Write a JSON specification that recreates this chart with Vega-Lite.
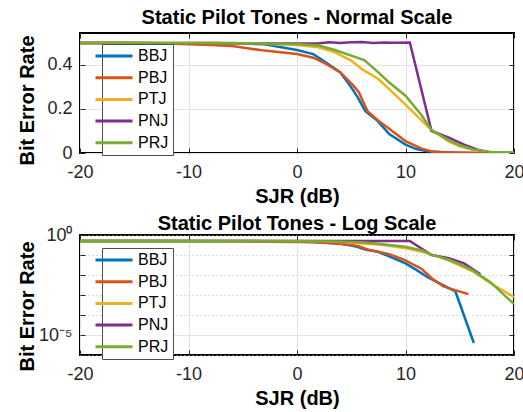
{
  "$schema": "https://vega.github.io/schema/vega-lite/v6.json",
  "padding": {"left": 16, "top": 6, "right": 0, "bottom": 0},
  "spacing": 6,
  "config": {
    "font": "Liberation Sans",
    "view": {"stroke": "black", "strokeWidth": 2},
    "axis": {
      "labelFont": "Liberation Sans", "labelFontSize": 18, "labelColor": "#262626",
      "titleFont": "Liberation Sans", "titleFontSize": 20, "titleFontWeight": "bold", "titleColor": "#000000",
      "gridColor": "#e3e3e3", "gridOpacity": 1, "gridWidth": 1,
      "domain": false, "tickColor": "#262626", "tickSize": -5, "tickWidth": 1,
      "labelFlush": false, "labelOverlap": false
    },
    "title": {"font": "Liberation Sans", "fontSize": 20, "fontWeight": "bold", "color": "#000000", "baseline": "alphabetic", "offset": 8, "frame": "group"},
    "legend": {
      "title": null, "symbolType": "M-4,0H4", "symbolSize": 85.6, "symbolStrokeWidth": 3,
      "labelFont": "Liberation Sans", "labelFontSize": 16, "labelColor": "#000000",
      "labelOffset": 16, "rowPadding": 5.7, "padding": 4,
      "strokeColor": "#4d4d4d", "fillColor": "white", "cornerRadius": 0
    }
  },
  "datasets": {
    "ber": [
      {"series": "BBJ", "sjr": -20, "ber": 0.5},
      {"series": "BBJ", "sjr": -15, "ber": 0.5},
      {"series": "BBJ", "sjr": -10, "ber": 0.499},
      {"series": "BBJ", "sjr": -5, "ber": 0.497},
      {"series": "BBJ", "sjr": -3, "ber": 0.494},
      {"series": "BBJ", "sjr": 0, "ber": 0.468},
      {"series": "BBJ", "sjr": 1.5, "ber": 0.449},
      {"series": "BBJ", "sjr": 2.4, "ber": 0.42},
      {"series": "BBJ", "sjr": 4, "ber": 0.366},
      {"series": "BBJ", "sjr": 5, "ber": 0.298},
      {"series": "BBJ", "sjr": 5.6, "ber": 0.253},
      {"series": "BBJ", "sjr": 6.3, "ber": 0.19},
      {"series": "BBJ", "sjr": 7.4, "ber": 0.147},
      {"series": "BBJ", "sjr": 8.5, "ber": 0.086},
      {"series": "BBJ", "sjr": 10, "ber": 0.038},
      {"series": "BBJ", "sjr": 11, "ber": 0.018},
      {"series": "BBJ", "sjr": 12, "ber": 0.008},
      {"series": "BBJ", "sjr": 13.5, "ber": 0.003},
      {"series": "BBJ", "sjr": 14.6, "ber": 0.0015},
      {"series": "BBJ", "sjr": 16.3, "ber": 0.000004},
      {"series": "BBJ", "sjr": 18.1, "ber": 0},
      {"series": "BBJ", "sjr": 20, "ber": 0},
      {"series": "PBJ", "sjr": -20, "ber": 0.5},
      {"series": "PBJ", "sjr": -14, "ber": 0.5},
      {"series": "PBJ", "sjr": -12, "ber": 0.497},
      {"series": "PBJ", "sjr": -8, "ber": 0.49},
      {"series": "PBJ", "sjr": -6, "ber": 0.486},
      {"series": "PBJ", "sjr": -3, "ber": 0.465},
      {"series": "PBJ", "sjr": 0, "ber": 0.45},
      {"series": "PBJ", "sjr": 1.5, "ber": 0.433},
      {"series": "PBJ", "sjr": 2.4, "ber": 0.412},
      {"series": "PBJ", "sjr": 4, "ber": 0.366},
      {"series": "PBJ", "sjr": 5.2, "ber": 0.306},
      {"series": "PBJ", "sjr": 5.7, "ber": 0.276},
      {"series": "PBJ", "sjr": 6.5, "ber": 0.19},
      {"series": "PBJ", "sjr": 7.5, "ber": 0.147},
      {"series": "PBJ", "sjr": 8.5, "ber": 0.11},
      {"series": "PBJ", "sjr": 10, "ber": 0.054},
      {"series": "PBJ", "sjr": 11.5, "ber": 0.02},
      {"series": "PBJ", "sjr": 12.5, "ber": 0.0063},
      {"series": "PBJ", "sjr": 13.5, "ber": 0.0027},
      {"series": "PBJ", "sjr": 14.5, "ber": 0.0018},
      {"series": "PBJ", "sjr": 15.8, "ber": 0.0011},
      {"series": "PBJ", "sjr": 17.5, "ber": 0},
      {"series": "PBJ", "sjr": 20, "ber": 0},
      {"series": "PTJ", "sjr": -20, "ber": 0.5},
      {"series": "PTJ", "sjr": -10, "ber": 0.5},
      {"series": "PTJ", "sjr": -5, "ber": 0.499},
      {"series": "PTJ", "sjr": 0, "ber": 0.49},
      {"series": "PTJ", "sjr": 2, "ber": 0.48},
      {"series": "PTJ", "sjr": 3.5, "ber": 0.457},
      {"series": "PTJ", "sjr": 5, "ber": 0.42},
      {"series": "PTJ", "sjr": 6, "ber": 0.38},
      {"series": "PTJ", "sjr": 7.5, "ber": 0.336},
      {"series": "PTJ", "sjr": 8.5, "ber": 0.29},
      {"series": "PTJ", "sjr": 10, "ber": 0.22},
      {"series": "PTJ", "sjr": 11.5, "ber": 0.147},
      {"series": "PTJ", "sjr": 12.4, "ber": 0.104},
      {"series": "PTJ", "sjr": 13, "ber": 0.085},
      {"series": "PTJ", "sjr": 14, "ber": 0.052},
      {"series": "PTJ", "sjr": 15, "ber": 0.03},
      {"series": "PTJ", "sjr": 16.2, "ber": 0.015},
      {"series": "PTJ", "sjr": 17.8, "ber": 0.004},
      {"series": "PTJ", "sjr": 20, "ber": 0.0008},
      {"series": "PNJ", "sjr": -20, "ber": 0.5},
      {"series": "PNJ", "sjr": -16, "ber": 0.5},
      {"series": "PNJ", "sjr": -12, "ber": 0.499},
      {"series": "PNJ", "sjr": -8, "ber": 0.5},
      {"series": "PNJ", "sjr": -4, "ber": 0.499},
      {"series": "PNJ", "sjr": 0, "ber": 0.497},
      {"series": "PNJ", "sjr": 2, "ber": 0.498},
      {"series": "PNJ", "sjr": 3, "ber": 0.503},
      {"series": "PNJ", "sjr": 4, "ber": 0.5},
      {"series": "PNJ", "sjr": 5, "ber": 0.503},
      {"series": "PNJ", "sjr": 6, "ber": 0.504},
      {"series": "PNJ", "sjr": 7, "ber": 0.5},
      {"series": "PNJ", "sjr": 8, "ber": 0.502},
      {"series": "PNJ", "sjr": 9, "ber": 0.501},
      {"series": "PNJ", "sjr": 10.4, "ber": 0.502},
      {"series": "PNJ", "sjr": 12.4, "ber": 0.1},
      {"series": "PNJ", "sjr": 14, "ber": 0.07},
      {"series": "PNJ", "sjr": 15.4, "ber": 0.038},
      {"series": "PNJ", "sjr": 16.9, "ber": 0.011},
      {"series": "PNJ", "sjr": 18.1, "ber": 0},
      {"series": "PNJ", "sjr": 20, "ber": 0},
      {"series": "PRJ", "sjr": -20, "ber": 0.5},
      {"series": "PRJ", "sjr": -10, "ber": 0.5},
      {"series": "PRJ", "sjr": -5, "ber": 0.499},
      {"series": "PRJ", "sjr": 0, "ber": 0.495},
      {"series": "PRJ", "sjr": 2, "ber": 0.488},
      {"series": "PRJ", "sjr": 3.5, "ber": 0.468},
      {"series": "PRJ", "sjr": 5, "ber": 0.442},
      {"series": "PRJ", "sjr": 6.2, "ber": 0.422},
      {"series": "PRJ", "sjr": 7.5, "ber": 0.366},
      {"series": "PRJ", "sjr": 8.5, "ber": 0.32},
      {"series": "PRJ", "sjr": 10, "ber": 0.26},
      {"series": "PRJ", "sjr": 11.5, "ber": 0.17},
      {"series": "PRJ", "sjr": 12.4, "ber": 0.104},
      {"series": "PRJ", "sjr": 14, "ber": 0.058},
      {"series": "PRJ", "sjr": 15, "ber": 0.035},
      {"series": "PRJ", "sjr": 16.2, "ber": 0.017},
      {"series": "PRJ", "sjr": 17.8, "ber": 0.0045},
      {"series": "PRJ", "sjr": 20, "ber": 0.00035}
    ]
  },
  "vconcat": [
    {
      "width": 434, "height": 120,
      "title": {"text": "Static Pilot Tones - Normal Scale", "dy": 3},
      "data": {"name": "ber"},
      "layer": [
        {
          "mark": {"type": "line", "strokeWidth": 2.5, "clip": true},
          "encoding": {
            "x": {"field": "sjr", "type": "quantitative", "scale": {"domain": [-20, 20], "nice": false},
                  "axis": {"values": [-20, -10, 0, 10, 20], "title": "SJR (dB)", "labelPadding": 15, "titlePadding": 5,
                           "labelExpr": "datum.value < 0 ? '-' + abs(datum.value) : '' + datum.value"}},
            "y": {"field": "ber", "type": "quantitative", "scale": {"domain": [0, 0.545], "nice": false, "zero": false},
                  "axis": {"values": [0, 0.2, 0.4], "title": "Bit Error Rate", "titleX": -43, "titleY": 67, "labelPadding": 13,
                           "labelExpr": "'' + datum.value"}},
            "color": {"field": "series", "type": "nominal",
                      "scale": {"domain": ["BBJ", "PBJ", "PTJ", "PNJ", "PRJ"], "range": ["#0072BD", "#D95319", "#EDB120", "#7E2F8E", "#77AC30"]},
                      "legend": {"orient": "none", "legendX": 22, "legendY": 11}}
          }
        },
        {
          "mark": {"type": "point", "opacity": 0},
          "encoding": {
            "x": {"field": "sjr", "type": "quantitative", "scale": {"domain": [-20, 20], "nice": false},
                  "axis": {"orient": "top", "values": [-20, -10, 0, 10, 20], "labels": false, "title": null, "grid": false}},
            "y": {"field": "ber", "type": "quantitative", "scale": {"domain": [0, 0.545], "nice": false, "zero": false},
                  "axis": {"orient": "right", "values": [0, 0.2, 0.4], "labels": false, "title": null, "grid": false}}
          }
        }
      ],
      "resolve": {"axis": {"x": "independent", "y": "independent"}}
    },
    {
      "width": 434, "height": 120,
      "title": {"text": "Static Pilot Tones - Log Scale", "dy": 16},
      "data": {"name": "ber"},
      "transform": [{"filter": "datum.ber > 0"}],
      "layer": [
        {
          "mark": {"type": "line", "strokeWidth": 2.5, "clip": true},
          "encoding": {
            "x": {"field": "sjr", "type": "quantitative", "scale": {"domain": [-20, 20], "nice": false},
                  "axis": {"values": [-20, -10, 0, 10, 20], "title": "SJR (dB)", "labelPadding": 15, "titlePadding": 5,
                           "labelExpr": "datum.value < 0 ? '-' + abs(datum.value) : '' + datum.value"}},
            "y": {"field": "ber", "type": "quantitative", "scale": {"type": "log", "domain": [0.000001, 1], "nice": false},
                  "axis": {"values": [0.000001, 0.00001, 0.0001, 0.001, 0.01, 0.1, 1], "title": "Bit Error Rate", "titleX": -43, "titleY": 71, "labelPadding": 13,
                           "labelExpr": "datum.value == 1 ? '10⁰' : (abs(log(datum.value)/LN10 + 5) < 0.01 ? '10⁻⁵' : '')",
                           "gridDash": {"condition": {"test": "abs(log(datum.value)/LN10 + 5) < 0.01", "value": []}, "value": [1, 3]},
                           "gridColor": {"condition": {"test": "abs(log(datum.value)/LN10 + 5) < 0.01", "value": "#e3e3e3"}, "value": "#bdbdbd"}}},
            "color": {"field": "series", "type": "nominal",
                      "scale": {"domain": ["BBJ", "PBJ", "PTJ", "PNJ", "PRJ"], "range": ["#0072BD", "#D95319", "#EDB120", "#7E2F8E", "#77AC30"]},
                      "legend": {"orient": "none", "legendX": 22, "legendY": 13}}
          }
        },
        {
          "mark": {"type": "point", "opacity": 0},
          "encoding": {
            "x": {"field": "sjr", "type": "quantitative", "scale": {"domain": [-20, 20], "nice": false},
                  "axis": {"orient": "top", "values": [-20, -10, 0, 10, 20], "labels": false, "title": null, "grid": false}},
            "y": {"field": "ber", "type": "quantitative", "scale": {"type": "log", "domain": [0.000001, 1], "nice": false},
                  "axis": {"orient": "right", "values": [0.000001, 0.00001, 0.0001, 0.001, 0.01, 0.1, 1], "labels": false, "title": null, "grid": false}}
          }
        }
      ],
      "resolve": {"axis": {"x": "independent", "y": "independent"}}
    }
  ],
  "resolve": {"legend": {"color": "independent"}}
}
